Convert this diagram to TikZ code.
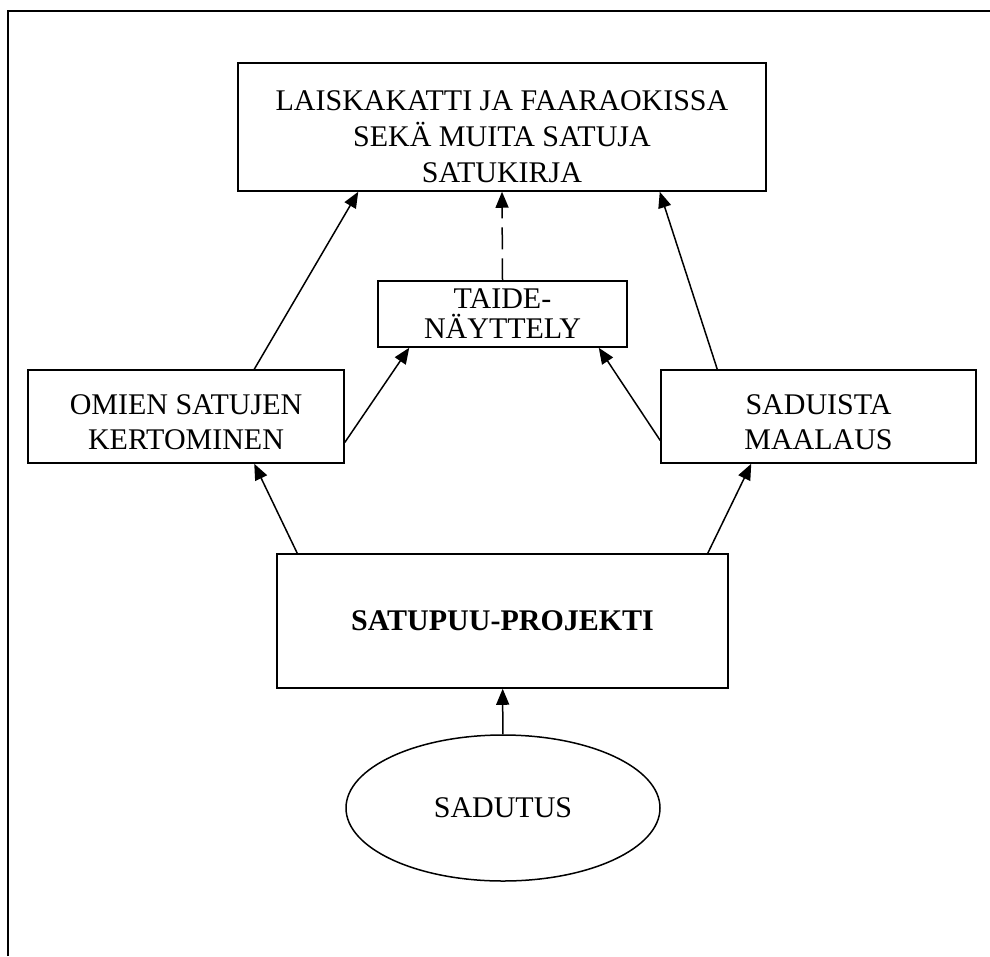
\documentclass[tikz,border=0pt]{standalone}
\usepackage{fontspec}
\setmainfont{Liberation Serif}
\usetikzlibrary{arrows.meta,shapes.geometric}
\begin{document}
\begin{tikzpicture}[x=1pt, y=-1pt, line width=1.5pt, >={Triangle[length=16pt,width=13pt]},
  box/.style={draw, align=center, inner sep=0pt, font=\fontsize{30}{36}\selectfont}]
\useasboundingbox (0,0) rectangle (990,956);
\draw[line width=2.2pt] (8,956) -- (8,11) -- (990,11);
\node[box, minimum width=528pt, minimum height=128pt] (kirja) at (502,127) {\rule{0pt}{40pt}LAISKAKATTI JA FAARAOKISSA\\SEKÄ MUITA SATUJA\\SATUKIRJA};
\node[box, minimum width=249pt, minimum height=66pt, font=\fontsize{30}{30}\selectfont] (taide) at (502.5,314) {TAIDE-\\NÄYTTELY};
\node[box, minimum width=316pt, minimum height=93pt, font=\fontsize{30}{35}\selectfont] (omien) at (186,416.5) {\rule{0pt}{32pt}OMIEN SATUJEN\\KERTOMINEN};
\node[box, minimum width=315pt, minimum height=93pt, font=\fontsize{30}{35}\selectfont] (saduista) at (818.5,416.5) {\rule{0pt}{32pt}SADUISTA\\MAALAUS};
\node[box, minimum width=451pt, minimum height=134pt] (satupuu) at (502.5,621) {\textbf{SATUPUU-PROJEKTI}};
\node[box, ellipse, minimum width=314pt, minimum height=146pt] (sadutus) at (503,808) {SADUTUS};
\draw[->] ([xshift=21pt]satupuu.north west) -- ([xshift=227pt]omien.south west);
\draw[->] ([xshift=-21pt]satupuu.north east) -- ([xshift=91pt]saduista.south west);
\draw[->] ([xshift=227pt]omien.north west) -- ([xshift=121pt]kirja.south west);
\draw[->] ([xshift=57pt]saduista.north west) -- ([xshift=-107pt]kirja.south east);
\draw[->] ([yshift=-26pt]omien.east) -- ([xshift=32pt]taide.south west);
\draw[->] ([yshift=-24pt]saduista.west) -- ([xshift=-29pt]taide.south east);
\draw[->, dash pattern=on 22pt off 9pt] (taide.north) -- (kirja.south);
\draw[->] (sadutus) -- (satupuu);
\end{tikzpicture}
\end{document}
